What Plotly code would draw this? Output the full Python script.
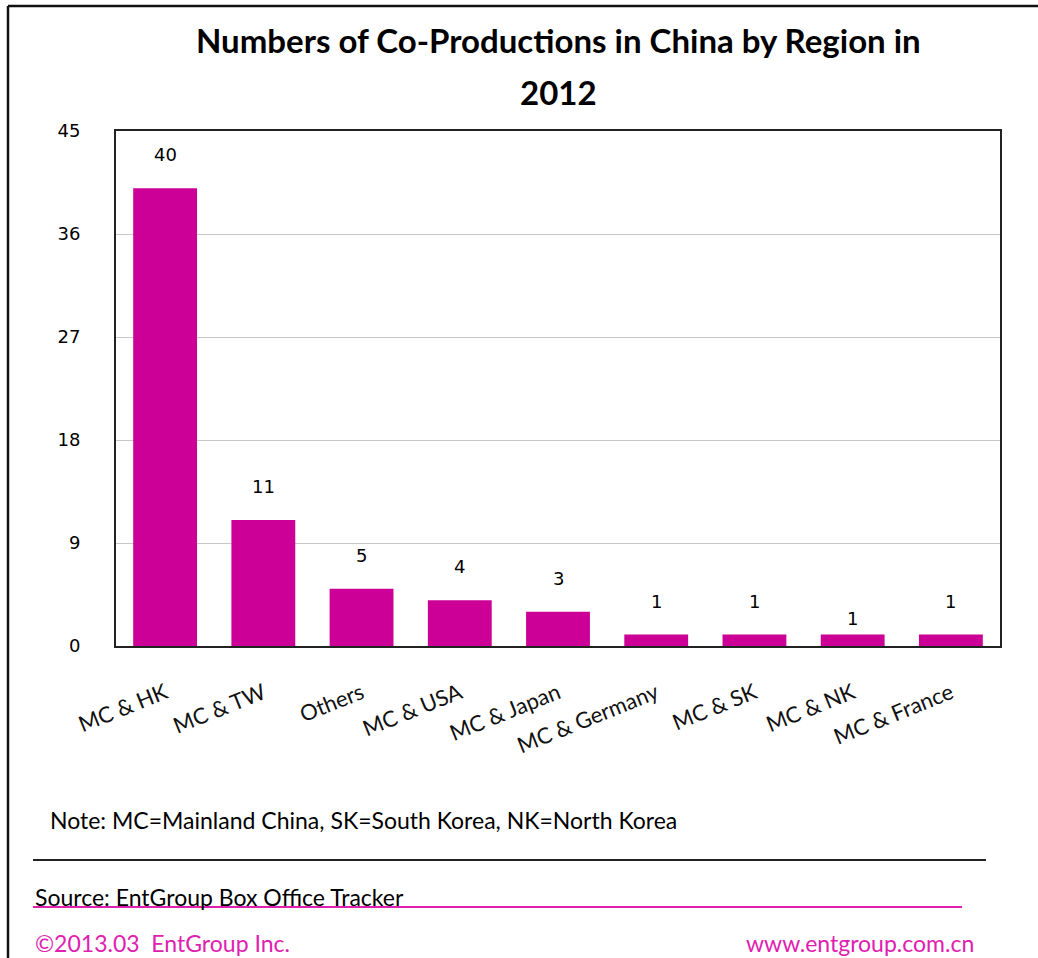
import plotly.graph_objects as go

categories = ["MC & HK", "MC & TW", "Others", "MC & USA", "MC & Japan",
              "MC & Germany", "MC & SK", "MC & NK", "MC & France"]
counts = [40, 11, 5, 4, 3, 1, 1, 1, 1]
y_ticks = [0, 9, 18, 27, 36, 45]

title_line1 = "Numbers of Co-Productions in China by Region in"
title_line2 = "2012"
note_text = "Note: MC=Mainland China, SK=South Korea, NK=North Korea"
source_text = "Source: EntGroup Box Office Tracker"
copyright_text = "©2013.03  EntGroup Inc."
website_text = "www.entgroup.com.cn"

BAR = "#CC0096"
MAG = "#E020B0"

W, H = 1038, 958
L, R, T, B = 116, 38, 131, 312
pw, ph = W - L - R, H - T - B


def px(x):
    return (x - L) / pw


def py(y):
    return (H - B - y) / ph


fig = go.Figure()
fig.add_trace(go.Bar(
    x=categories, y=counts,
    marker=dict(color=BAR, line=dict(width=0)),
    text=[str(v) for v in counts], textposition="none",
    hoverinfo="x+y",
))

label_shift = [21, 21, 21, 21, 21, 21, 21, 4, 21]
for c, v, s in zip(categories, counts, label_shift):
    fig.add_annotation(x=c, y=v, xref="x", yref="y", text=str(v),
                       showarrow=False, yanchor="bottom", yshift=s,
                       font=dict(family="DejaVu Sans", size=18, color="#000"))

fig.update_layout(
    width=W, height=H,
    margin=dict(l=L, r=R, t=T, b=B, autoexpand=False),
    paper_bgcolor="white", plot_bgcolor="white",
    bargap=0.35, showlegend=False,
    font=dict(family="DejaVu Sans", color="#000"),
)
fig.update_xaxes(
    tickangle=-22, tickfont=dict(family="Lato", size=22, color="#111"),
    showline=True, linecolor="#222", linewidth=2, mirror=True,
    ticks="", showgrid=False, ticklabelstandoff=24,
)
fig.update_yaxes(
    range=[0, 45], tickvals=y_ticks, ticktext=[str(t) for t in y_ticks],
    tickfont=dict(family="DejaVu Sans", size=18, color="#000"),
    showline=True, linecolor="#222", linewidth=2, mirror=True,
    showgrid=True, gridcolor="#C8C8C8", gridwidth=1, ticks="",
    ticklabelstandoff=30, zeroline=False,
)

# titles
fig.add_annotation(x=0.5, y=py(40), xref="paper", yref="paper", text="<b>" + title_line1 + "</b>",
                   showarrow=False, xanchor="center", yanchor="middle",
                   font=dict(family="Lato", size=33, color="#000"))
fig.add_annotation(x=0.5, y=py(92), xref="paper", yref="paper", text="<b>" + title_line2 + "</b>",
                   showarrow=False, xanchor="center", yanchor="middle",
                   font=dict(family="Lato", size=33, color="#000"))

# notes / footer
fig.add_annotation(x=px(48), y=py(820), xref="paper", yref="paper", text=note_text,
                   showarrow=False, xanchor="left", yanchor="middle",
                   font=dict(family="Lato", size=23, color="#000"))
fig.add_annotation(x=px(33), y=py(897), xref="paper", yref="paper", text=source_text,
                   showarrow=False, xanchor="left", yanchor="middle",
                   font=dict(family="Lato", size=23, color="#000"))
fig.add_annotation(x=px(33), y=py(943), xref="paper", yref="paper", text=copyright_text,
                   showarrow=False, xanchor="left", yanchor="middle",
                   font=dict(family="Lato", size=23, color=MAG))
fig.add_annotation(x=px(976), y=py(943), xref="paper", yref="paper", text=website_text,
                   showarrow=False, xanchor="right", yanchor="middle",
                   font=dict(family="Lato", size=23, color=MAG))

# separator lines and outer frame
fig.add_shape(type="line", xref="paper", yref="paper", x0=px(33), x1=px(986), y0=py(860), y1=py(860),
              line=dict(color="#222", width=2))
fig.add_shape(type="line", xref="paper", yref="paper", x0=px(33), x1=px(962), y0=py(907), y1=py(907),
              line=dict(color=MAG, width=2))
fig.add_shape(type="line", xref="paper", yref="paper", x0=px(8), x1=px(1040), y0=py(6), y1=py(6),
              line=dict(color="#111", width=2.5))
fig.add_shape(type="line", xref="paper", yref="paper", x0=px(8), x1=px(8), y0=py(6), y1=py(962),
              line=dict(color="#111", width=2.5))

fig.write_html("out.html")
